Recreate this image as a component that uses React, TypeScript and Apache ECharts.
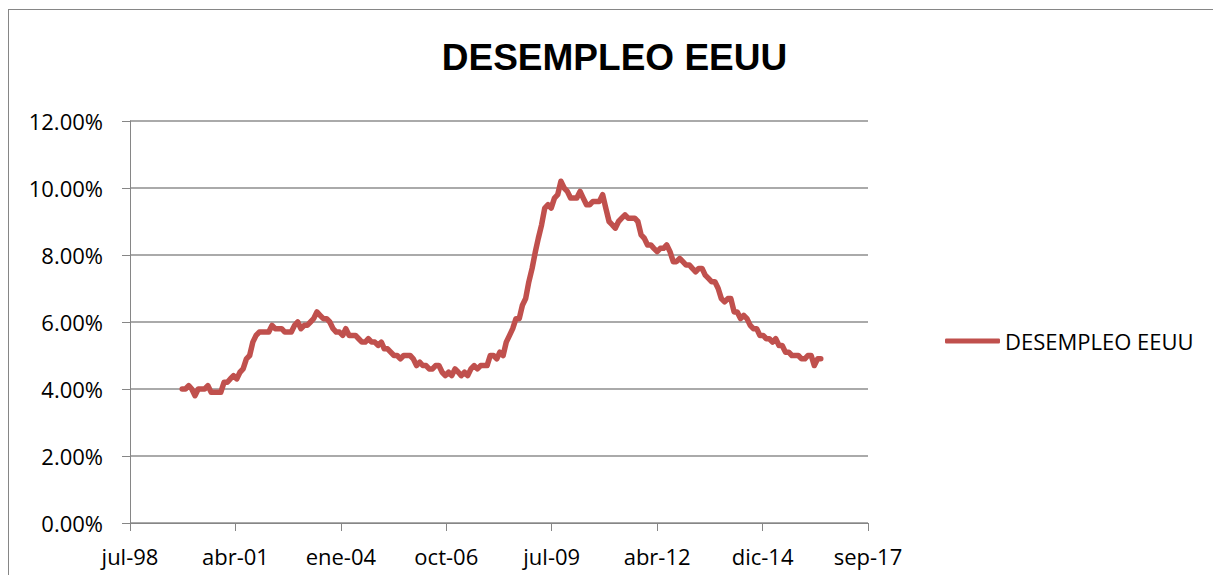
import React, { useEffect, useRef } from "react";
import * as echarts from "echarts";

// ---------- DATA ----------
const chartTitle = "DESEMPLEO EEUU";
const seriesName = "DESEMPLEO EEUU";

// Monthly unemployment rate (%), first value = December 1999
const firstYear = 1999;
const firstMonth = 12; // 1-based
const unemploymentRate: number[] = [
  // 1999 (Dec)
  4.0,
  // 2000
  4.0, 4.1, 4.0, 3.8, 4.0, 4.0, 4.0, 4.1, 3.9, 3.9, 3.9, 3.9,
  // 2001
  4.2, 4.2, 4.3, 4.4, 4.3, 4.5, 4.6, 4.9, 5.0, 5.4, 5.6, 5.7,
  // 2002
  5.7, 5.7, 5.7, 5.9, 5.8, 5.8, 5.8, 5.7, 5.7, 5.7, 5.9, 6.0,
  // 2003
  5.8, 5.9, 5.9, 6.0, 6.1, 6.3, 6.2, 6.1, 6.1, 6.0, 5.8, 5.7,
  // 2004
  5.7, 5.6, 5.8, 5.6, 5.6, 5.6, 5.5, 5.4, 5.4, 5.5, 5.4, 5.4,
  // 2005
  5.3, 5.4, 5.2, 5.2, 5.1, 5.0, 5.0, 4.9, 5.0, 5.0, 5.0, 4.9,
  // 2006
  4.7, 4.8, 4.7, 4.7, 4.6, 4.6, 4.7, 4.7, 4.5, 4.4, 4.5, 4.4,
  // 2007
  4.6, 4.5, 4.4, 4.5, 4.4, 4.6, 4.7, 4.6, 4.7, 4.7, 4.7, 5.0,
  // 2008
  5.0, 4.9, 5.1, 5.0, 5.4, 5.6, 5.8, 6.1, 6.1, 6.5, 6.7, 7.2,
  // 2009
  7.6, 8.1, 8.5, 8.9, 9.4, 9.5, 9.4, 9.7, 9.8, 10.2, 10.0, 9.9,
  // 2010
  9.7, 9.7, 9.7, 9.9, 9.7, 9.5, 9.5, 9.6, 9.6, 9.6, 9.8, 9.4,
  // 2011
  9.0, 8.9, 8.8, 9.0, 9.1, 9.2, 9.1, 9.1, 9.1, 9.0, 8.6, 8.5,
  // 2012
  8.3, 8.3, 8.2, 8.1, 8.2, 8.2, 8.3, 8.1, 7.8, 7.8, 7.9, 7.8,
  // 2013
  7.7, 7.7, 7.6, 7.5, 7.6, 7.6, 7.4, 7.3, 7.2, 7.2, 7.0, 6.7,
  // 2014
  6.6, 6.7, 6.7, 6.3, 6.3, 6.1, 6.2, 6.1, 5.9, 5.8, 5.8, 5.6,
  // 2015
  5.6, 5.5, 5.5, 5.4, 5.5, 5.3, 5.3, 5.1, 5.1, 5.0, 5.0, 5.0,
  // 2016 (Jan-Jul)
  4.9, 4.9, 5.0, 5.0, 4.7, 4.9, 4.9,
];

// X axis: Excel date serials, ticks every 1000 days
const xAxisMin = 36000;
const xAxisMax = 43000;
const xAxisStep = 1000;
const xTickLabels = ["jul-98", "abr-01", "ene-04", "oct-06", "jul-09", "abr-12", "dic-14", "sep-17"];

// Y axis (percent)
const yAxisMin = 0;
const yAxisMax = 12;
const yAxisStep = 2;

// ---------- HELPERS ----------
const excelSerial = (year: number, monthIndex: number) =>
  Math.round((Date.UTC(year, monthIndex, 1) - Date.UTC(1899, 11, 30)) / 86400000);

const seriesData = unemploymentRate.map((v, i) => {
  const m0 = firstMonth - 1 + i;
  const y = firstYear + Math.floor(m0 / 12);
  const m = m0 % 12;
  return [excelSerial(y, m), v];
});

const AXIS_COLOR = "#868686";
const GRID_COLOR = "#8e8e8e";
const LINE_COLOR = "#C0504D";
const FONT = "'Open Sans', 'DejaVu Sans', sans-serif";

export default function App() {
  const ref = useRef<HTMLDivElement>(null);

  useEffect(() => {
    if (!ref.current) return;
    const chart = echarts.init(ref.current, null, { renderer: "svg" });
    chart.setOption({
      animation: false,
      backgroundColor: "#ffffff",
      title: {
        text: chartTitle,
        left: "center",
        top: 26,
        textStyle: {
          fontFamily: "'Liberation Sans', Arial, sans-serif",
          fontWeight: "bold",
          fontSize: 37,
          color: "#000000",
        },
      },
      legend: {
        data: [{ name: seriesName, icon: "roundRect" }],
        orient: "vertical",
        left: 937,
        top: 322,
        padding: 0,
        itemWidth: 55,
        itemHeight: 5,
        itemGap: 5,
        itemStyle: { color: LINE_COLOR, borderWidth: 0 },
        textStyle: { fontFamily: FONT, fontSize: 22, color: "#000000" },
      },
      grid: { left: 122, top: 113, width: 738, height: 402 },
      xAxis: {
        type: "value",
        min: xAxisMin,
        max: xAxisMax,
        interval: xAxisStep,
        axisLine: { show: true, lineStyle: { color: AXIS_COLOR, width: 1 } },
        axisTick: { show: true, inside: false, length: 8, lineStyle: { color: AXIS_COLOR, width: 1 } },
        splitLine: { show: false },
        axisLabel: {
          margin: 22,
          fontFamily: FONT,
          fontSize: 22,
          color: "#000000",
          formatter: (v: number) => xTickLabels[Math.round((v - xAxisMin) / xAxisStep)] ?? "",
        },
      },
      yAxis: {
        type: "value",
        min: yAxisMin,
        max: yAxisMax,
        interval: yAxisStep,
        axisLine: { show: true, lineStyle: { color: AXIS_COLOR, width: 1 } },
        axisTick: { show: true, inside: false, length: 8, lineStyle: { color: AXIS_COLOR, width: 1 } },
        splitLine: { show: true, lineStyle: { color: GRID_COLOR, width: 1.5 } },
        axisLabel: {
          margin: 27,
          fontFamily: FONT,
          fontSize: 22,
          color: "#000000",
          formatter: (v: number) => v.toFixed(2) + "%",
        },
      },
      graphic: [
        { type: "line", shape: { x1: 0.5, y1: 1, x2: 0.5, y2: 567 }, style: { stroke: AXIS_COLOR, lineWidth: 1 } },
        { type: "line", shape: { x1: 0, y1: 1.5, x2: 1213, y2: 1.5 }, style: { stroke: AXIS_COLOR, lineWidth: 1 } },
      ],
      series: [
        {
          name: seriesName,
          type: "line",
          data: seriesData,
          symbol: "none",
          showSymbol: false,
          lineStyle: { color: LINE_COLOR, width: 5.5, cap: "round", join: "round" },
          itemStyle: { color: LINE_COLOR },
        },
      ],
    });
    return () => chart.dispose();
  }, []);

  return <div ref={ref} style={{ width: 1213, height: 567 }} />;
}
